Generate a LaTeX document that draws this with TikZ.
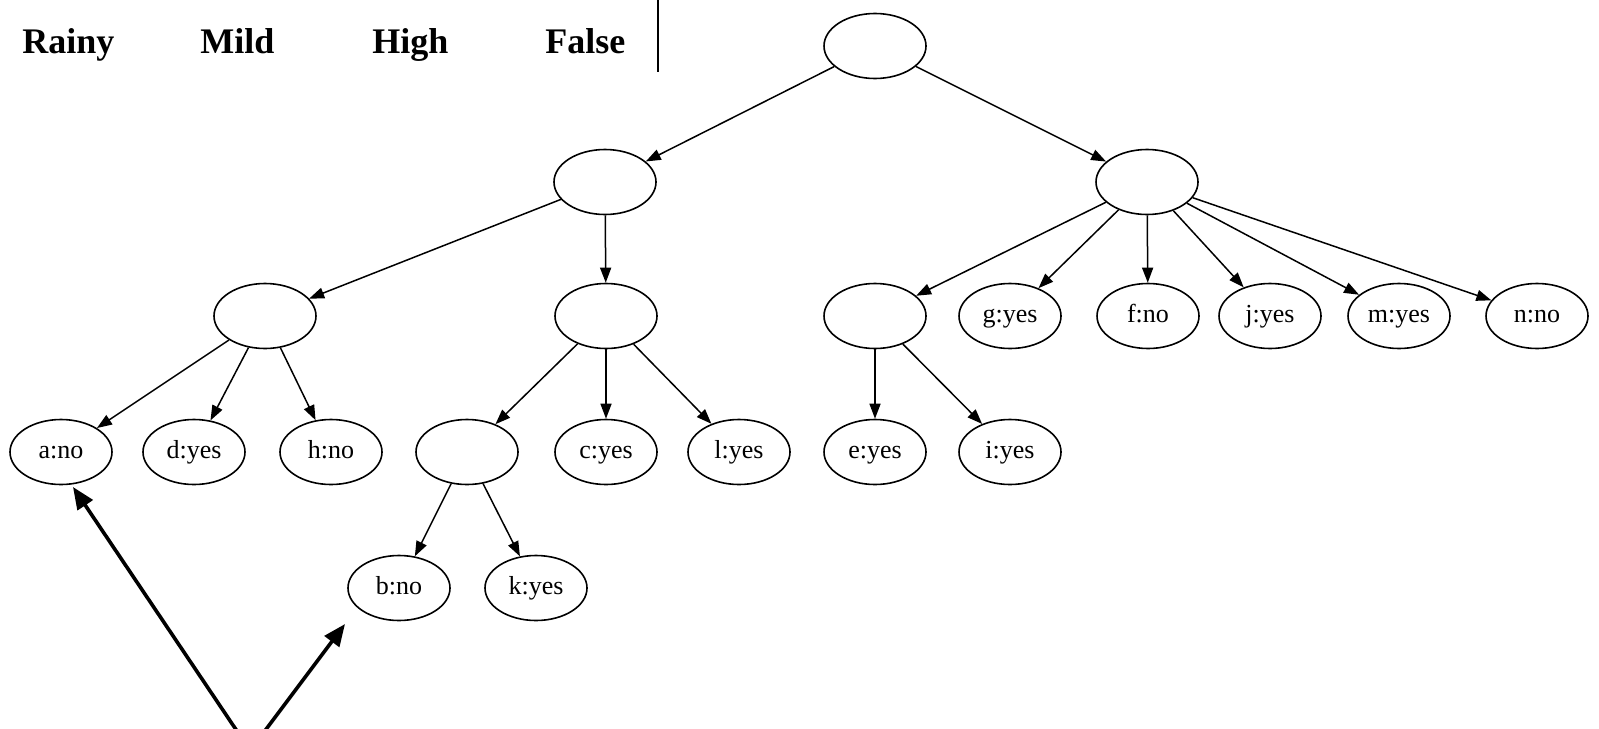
\documentclass[tikz,border=0pt]{standalone}
\usepackage{fontspec}
\setmainfont{Liberation Serif}
\usetikzlibrary{arrows.meta,shapes.geometric}
\begin{document}
\begin{tikzpicture}[x=0.5pt,y=-0.5pt,
  tnode/.style={ellipse,draw,line width=0.8pt,minimum width=51pt,minimum height=32.5pt,
    inner sep=0pt,text height=9pt,text depth=2.8pt,font=\fontsize{13}{15}\selectfont},
  edge/.style={line width=0.75pt,-{Triangle[length=7.5pt,width=5.5pt]}},
  pointer/.style={line width=1.8pt,-{Triangle[length=11pt,width=9pt]}},
  head/.style={anchor=base west,inner sep=0pt,font=\fontsize{18}{21}\selectfont\bfseries}]
\useasboundingbox (0,0) rectangle (1599,728);
\clip (0,0) rectangle (1599,728);

% table row fragment
\node[head] (rainy) at (22,54) {Rainy};
\node[head] (mild)  at (200,54) {Mild};
\node[head] (high)  at (372,54) {High};
\node[head] (false) at (545,54) {False};
\coordinate (rt) at (658,-2);
\coordinate (rb) at (658,72);
\draw[line width=1.3pt] (rt) -- (rb);

% decision tree
\node[tnode] (root) at (875,46) {};
\node[tnode] (n1) at (605,182) {};
\node[tnode] (n2) at (1147,182) {};

\node[tnode] (A) at (265,316) {};
\node[tnode] (B) at (606,316) {};
\node[tnode] (E) at (875,316) {};
\node[tnode] (g) at (1010,316) {g:yes};
\node[tnode] (f) at (1148,316) {f:no};
\node[tnode] (j) at (1270,316) {j:yes};
\node[tnode] (m) at (1399,316) {m:yes};
\node[tnode] (n) at (1537,316) {n:no};

\node[tnode] (a) at (61,452) {a:no};
\node[tnode] (d) at (194,452) {d:yes};
\node[tnode] (h) at (331,452) {h:no};
\node[tnode] (C) at (467,452) {};
\node[tnode] (c) at (606,452) {c:yes};
\node[tnode] (l) at (739,452) {l:yes};
\node[tnode] (e) at (875,452) {e:yes};
\node[tnode] (i) at (1010,452) {i:yes};

\node[tnode] (b) at (399,588) {b:no};
\node[tnode] (k) at (536,588) {k:yes};

\foreach \p/\c in {root/n1,root/n2,n1/A,n1/B,n2/E,n2/g,n2/f,n2/j,n2/m,n2/n,
                   A/a,A/d,A/h,B/C,B/c,B/l,E/e,E/i,C/b,C/k}
  \draw[edge] (\p) -- (\c);

% pointers to the two leaves
\coordinate (srcA) at (243,740);
\coordinate (tipA) at (73,487);
\coordinate (srcB) at (258,740);
\coordinate (tipB) at (345,624);
\draw[pointer] (srcA) -- (tipA);
\draw[pointer] (srcB) -- (tipB);
\end{tikzpicture}
\end{document}
